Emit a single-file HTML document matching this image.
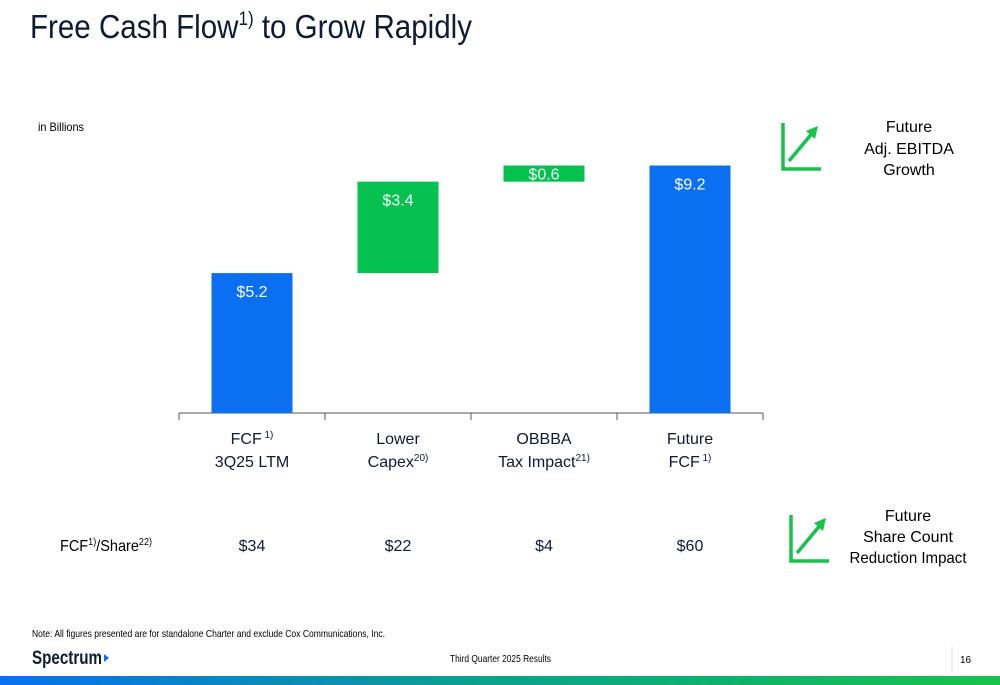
<!DOCTYPE html>
<html><head><meta charset="utf-8"><style>
body{margin:0;width:1000px;height:685px;overflow:hidden;background:#fff;font-family:"Liberation Sans",sans-serif;color:#0f1a33;}
svg{position:absolute;left:0;top:0}
</style></head><body>
<svg width="1000" height="685">
<defs><linearGradient id="g" x1="0" x2="1"><stop offset="0" stop-color="#0a6ff0"/><stop offset="0.5" stop-color="#0aa38a"/><stop offset="1" stop-color="#16c24a"/></linearGradient></defs>
<text x="30" y="38" font-size="33" fill="#0f1a33" textLength="442" lengthAdjust="spacingAndGlyphs">Free Cash Flow<tspan font-size="19" dy="-13">1)</tspan><tspan dy="13"> to Grow Rapidly</tspan></text>
<text x="38" y="131" font-size="12" textLength="46" lengthAdjust="spacingAndGlyphs">in Billions</text>
<g id="chart"></g>
<g stroke="#16c24a" stroke-width="3.5" fill="none">
<polyline points="783,123 783,169 821,169"/><line x1="789" y1="161" x2="814" y2="131"/><polygon points="818,126 806,131 815,139" fill="#16c24a" stroke="none"/></g>
<text text-anchor="middle" font-size="16"><tspan x="909" y="132">Future</tspan><tspan x="909" y="154">Adj. EBITDA</tspan><tspan x="909" y="175">Growth</tspan></text>
<g stroke="#16c24a" stroke-width="3.5" fill="none">
<polyline points="791,515 791,561 829,561"/><line x1="797" y1="553" x2="822" y2="523"/><polygon points="826,518 814,523 823,531" fill="#16c24a" stroke="none"/></g>
<text text-anchor="middle" font-size="16"><tspan x="908" y="521">Future</tspan><tspan x="908" y="542">Share Count</tspan><tspan x="908" y="563" textLength="117" lengthAdjust="spacingAndGlyphs">Reduction Impact</tspan></text>
<text x="60" y="551" font-size="16" textLength="92" lengthAdjust="spacingAndGlyphs">FCF<tspan font-size="10" dy="-6">1)</tspan><tspan dy="6">/Share</tspan><tspan font-size="10" dy="-6">22)</tspan></text>
<text x="32" y="637" font-size="10.5" textLength="353" lengthAdjust="spacingAndGlyphs">Note: All figures presented are for standalone Charter and exclude Cox Communications, Inc.</text>
<text x="32" y="664" font-size="19" font-weight="bold" fill="#0f1a33" textLength="70" lengthAdjust="spacingAndGlyphs">Spectrum</text>
<polygon points="104,654 109,658 104,662" fill="#0a6ff0"/>
<text x="450" y="662" font-size="10.5" textLength="101" lengthAdjust="spacingAndGlyphs">Third Quarter 2025 Results</text>
<line x1="952" y1="647" x2="952" y2="672" stroke="#ddd"/>
<text x="960" y="663" font-size="10">16</text>
<rect x="0" y="676" width="1000" height="9" fill="url(#g)"/>
</svg>
<script>
const categories=["FCF|3Q25 LTM","Lower|Capex","OBBBA|Tax Impact","Future|FCF"];
const sups=["1)","20)","21)","1)"];
const values=[5.2,3.4,0.6,9.2];
const kinds=["total","delta","delta","total"];
const labels=["$5.2","$3.4","$0.6","$9.2"];
const perShare=["$34","$22","$4","$60"];
const ns="http://www.w3.org/2000/svg";
const base=413,scale=26.9,x0=179,slot=146,bw=81;
const y=v=>base-v*scale;
const g=document.getElementById('chart');
function mk(t,a,p){const e=document.createElementNS(ns,t);for(const k in a)e.setAttribute(k,a[k]);(p||g).appendChild(e);return e;}
const ax=mk('line',{x1:x0,x2:x0+slot*4,y1:base,y2:base,stroke:'#555','stroke-width':1});


for(let i=0;i<=4;i++){mk('line',{x1:x0+slot*i,x2:x0+slot*i,y1:base,y2:base+7,stroke:'#555'});}
let cum=0;
values.forEach((v,i)=>{
 let lo,hi,col;
 if(kinds[i]==='total'){lo=0;hi=v;cum=v;col='#0a6ff0';}else{lo=cum;hi=cum+v;cum=hi;col='#05c150';}
 const cx=x0+slot*i+slot/2;
 const r=mk('rect',{x:cx-bw/2,y:y(hi),width:bw,height:y(lo)-y(hi),fill:col});
 
 
 const t=mk('text',{x:cx,y:y(hi)+(v<1?14:24),'text-anchor':'middle','font-size':16,fill:'#fff'});
 t.textContent=labels[i];
 
 
 const [a,b]=categories[i].split('|');
 const c=mk('text',{'text-anchor':'middle','font-size':16,fill:'#0f1a33'});
 
 
 const s1=mk('tspan',{x:cx,y:444},c);s1.textContent=a;
 if(i===0){const s=mk('tspan',{'font-size':10,dy:-6},c);s.textContent=' '+sups[i];}
 const s2=mk('tspan',{x:cx,y:467},c);s2.textContent=b;
 if(i!==0){const s=mk('tspan',{'font-size':10,dy:-6},c);s.textContent=(i===3?' ':'')+sups[i];}
 const p=mk('text',{x:cx,y:551,'text-anchor':'middle','font-size':16,fill:'#0f1a33'});
 p.textContent=perShare[i];
 
 
});
</script>
</body></html>
